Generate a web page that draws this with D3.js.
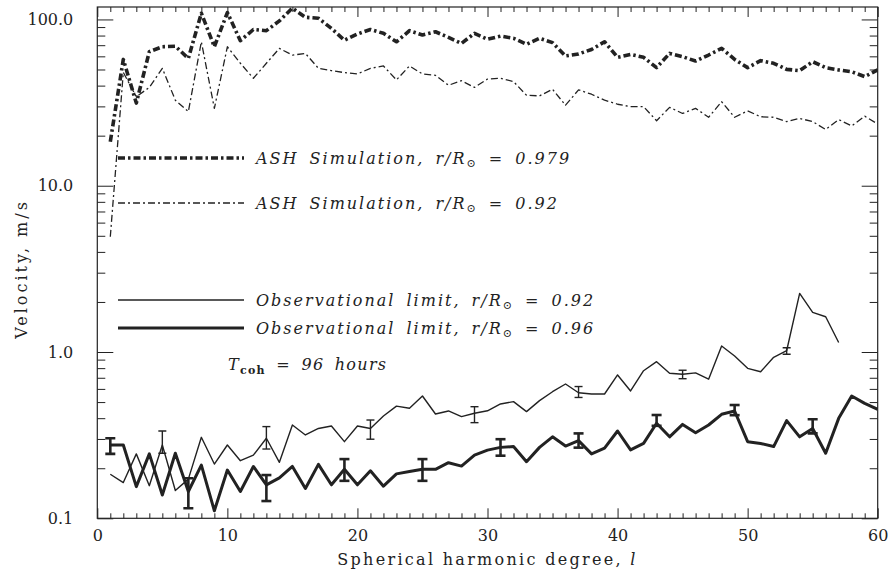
<!DOCTYPE html>
<html>
<head>
<meta charset="utf-8">
<script src="https://cdn.jsdelivr.net/npm/d3@7/dist/d3.min.js"></script>
<style>
    body { margin: 0; background: #fff; }
    svg { display: block; }
    .tick-label { font-family: "DejaVu Serif", serif; font-size: 16px; fill: #222; }
    .axis-title { font-family: "DejaVu Serif", serif; font-size: 16px; fill: #222; letter-spacing: 2.3px; }
    .legend-text { font-family: "DejaVu Serif", serif; font-style: italic; font-size: 16px; fill: #222; letter-spacing: 2px; word-spacing: 4px; }
</style>
</head>
<body>
<div id="chart"></div>
<script>

// spherical harmonic degree l
var degrees = d3.range(1, 61);
var degreesObsLow = d3.range(1, 58);

// ASH simulation, r/R = 0.979 (thick dash-dot)
var ashHigh = [18.4, 57.5, 31.4, 64, 68.5, 69, 58.3, 109, 68.5, 110,
    74.5, 87, 85.6, 98, 117, 103, 101.7, 88.3, 75, 81.7,
    87, 82.5, 73.4, 85.6, 80.6, 84.3, 78, 71.8, 82.5, 76,
    79.4, 77, 71, 77, 72.5, 60.3, 62, 66, 73.4, 59.2,
    61.6, 59.2, 51.3, 62.5, 59.7, 56.2, 61.1, 67, 57.5, 51.3,
    56.5, 54.5, 50.1, 49.2, 55.7, 51.3, 49.7, 48.5, 45.3, 49.7];

// ASH simulation, r/R = 0.92 (thin dash-dot)
var ashLow = [4.93, 48, 34.3, 39, 50.8, 32.7, 27.9, 73.4, 29.2, 68.5,
    54.5, 44.3, 54.5, 67, 61, 62.5, 50.8, 49.2, 47.9, 47,
    50.8, 52.5, 43.3, 52.5, 47, 46.1, 40.2, 42.8, 39, 43.8,
    44.3, 42.3, 35, 34.7, 38, 30.5, 37.7, 35.5, 32.7, 30.9,
    29.9, 29.9, 24.6, 29.6, 27.2, 29.2, 25.8, 32, 25.8, 28.2,
    26, 25.8, 24.3, 25.4, 24.3, 21.8, 25, 22.9, 26.2, 23.5];

// Observational limit, r/R = 0.92 (thin solid)
var obsLow = [0.184, 0.164, 0.244, 0.157, 0.276, 0.147, 0.172, 0.307, 0.212, 0.276,
    0.222, 0.240, 0.303, 0.217, 0.364, 0.317, 0.347, 0.359, 0.289, 0.359,
    0.347, 0.412, 0.473, 0.459, 0.544, 0.424, 0.442, 0.409, 0.428, 0.443,
    0.487, 0.503, 0.438, 0.510, 0.577, 0.642, 0.569, 0.559, 0.559, 0.728,
    0.583, 0.772, 0.875, 0.745, 0.735, 0.749, 0.686, 1.087, 0.946, 0.798,
    0.761, 0.929, 1.018, 2.25, 1.73, 1.63, 1.14];

// Observational limit, r/R = 0.96 (thick solid)
var obsHigh = [0.276, 0.276, 0.155, 0.244, 0.138, 0.246, 0.145, 0.209, 0.111, 0.195,
    0.145, 0.205, 0.159, 0.175, 0.205, 0.151, 0.211, 0.159, 0.197, 0.159,
    0.193, 0.156, 0.185, 0.191, 0.197, 0.197, 0.216, 0.206, 0.240, 0.257,
    0.267, 0.270, 0.219, 0.267, 0.309, 0.272, 0.293, 0.244, 0.264, 0.335,
    0.258, 0.282, 0.373, 0.309, 0.367, 0.327, 0.364, 0.422, 0.442, 0.289,
    0.282, 0.270, 0.387, 0.309, 0.347, 0.246, 0.399, 0.544, 0.491, 0.452];

// error bars: degree, low, high
var errLowL = [5, 13, 21, 29, 37, 45, 53];
var errLowMin = [0.246, 0.261, 0.299, 0.376, 0.533, 0.691, 0.97];
var errLowMax = [0.335, 0.356, 0.390, 0.469, 0.620, 0.777, 1.06];

var errHighL = [1, 7, 13, 19, 25, 31, 37, 43, 49, 55];
var errHighMin = [0.244, 0.115, 0.127, 0.168, 0.168, 0.238, 0.266, 0.360, 0.417, 0.324];
var errHighMax = [0.303, 0.174, 0.182, 0.227, 0.227, 0.299, 0.324, 0.418, 0.480, 0.394];

// axis ticks
var xTicks = [0, 10, 20, 30, 40, 50, 60];
var yTicks = [0.1, 1, 10, 100];
var yTickLabels = ["0.1", "1.0", "10.0", "100.0"];


var W = 892, H = 572;
var margin = {top: 7, right: 14.3, bottom: 53.7, left: 97.3};
var width = W - margin.left - margin.right;
var height = H - margin.top - margin.bottom;
var ink = "#222";

var svg = d3.select("#chart").append("svg")
    .attr("width", W)
    .attr("height", H);

var g = svg.append("g")
    .attr("transform", "translate(" + margin.left + "," + margin.top + ")");

var x = d3.scaleLinear().domain([0, 60]).range([0, width]);
var y = d3.scaleLog().domain([0.1, 118.8]).range([height, 0]);

svg.append("defs").append("clipPath")
    .attr("id", "plot-clip")
    .append("rect")
    .attr("width", width)
    .attr("height", height);

/*
 * Axes, IDL style: ticks inside on all four sides
 */
var minorX = d3.range(0, 61).filter(function(d) { return d % 10 != 0; });
var minorY = [];
[0.1, 1, 10, 100].forEach(function(dec) {
    d3.range(2, 10).forEach(function(k) {
        if (dec * k <= 118.8) minorY.push(dec * k);
    });
});

g.append("g")
    .attr("transform", "translate(0," + height + ")")
    .call(d3.axisBottom(x).tickValues(minorX).tickSize(-5).tickFormat(""));
g.append("g")
    .attr("transform", "translate(0," + height + ")")
    .call(d3.axisBottom(x).tickValues(xTicks).tickSize(-10).tickPadding(11).tickFormat(d3.format("d")));
g.append("g")
    .call(d3.axisTop(x).tickValues(minorX).tickSize(-5).tickFormat(""));
g.append("g")
    .call(d3.axisTop(x).tickValues(xTicks).tickSize(-10).tickFormat(""));

g.append("g")
    .call(d3.axisLeft(y).tickValues(minorY).tickSize(-8).tickFormat(""));
g.append("g")
    .call(d3.axisLeft(y).tickValues(yTicks).tickSize(-16).tickPadding(24)
        .tickFormat(function(d, i) { return yTickLabels[i]; }));
g.append("g")
    .attr("transform", "translate(" + width + ",0)")
    .call(d3.axisRight(y).tickValues(minorY).tickSize(-8).tickFormat(""));
g.append("g")
    .attr("transform", "translate(" + width + ",0)")
    .call(d3.axisRight(y).tickValues(yTicks).tickSize(-16).tickFormat(""));

g.selectAll(".domain").remove();
g.selectAll(".tick line").attr("stroke", ink).attr("stroke-width", 1);
g.selectAll(".tick text").attr("class", "tick-label");

g.append("rect")
    .attr("width", width)
    .attr("height", height)
    .attr("fill", "none")
    .attr("stroke", ink)
    .attr("stroke-width", 1.2);

/*
 * Series
 */
var plot = g.append("g").attr("clip-path", "url(#plot-clip)");

var line = d3.line()
    .x(function(d) { return x(d[0]); })
    .y(function(d) { return y(d[1]); });

function pairs(ls, vs) {
    return ls.map(function(l, i) { return [l, vs[i]]; });
}

var series = [
    {values: pairs(degrees, ashHigh), width: 3.6, dash: "7,3,2.5,3"},
    {values: pairs(degrees, ashLow), width: 1.3, dash: "7,3,2,3"},
    {values: pairs(degreesObsLow, obsLow), width: 1.4, dash: null},
    {values: pairs(degrees, obsHigh), width: 3, dash: null}
];

series.forEach(function(s) {
    plot.append("path")
        .datum(s.values)
        .attr("d", line)
        .attr("fill", "none")
        .attr("stroke", ink)
        .attr("stroke-width", s.width)
        .attr("stroke-linejoin", "round")
        .attr("stroke-dasharray", s.dash);
});

function errorBars(ls, lo, hi, sw, cap) {
    var eb = plot.append("g")
        .attr("stroke", ink)
        .attr("stroke-width", sw)
        .selectAll("g")
        .data(ls)
        .enter().append("g");
    eb.append("line")
        .attr("x1", function(d) { return x(d); })
        .attr("x2", function(d) { return x(d); })
        .attr("y1", function(d, i) { return y(lo[i]); })
        .attr("y2", function(d, i) { return y(hi[i]); });
    eb.append("line")
        .attr("x1", function(d) { return x(d) - cap; })
        .attr("x2", function(d) { return x(d) + cap; })
        .attr("y1", function(d, i) { return y(lo[i]); })
        .attr("y2", function(d, i) { return y(lo[i]); });
    eb.append("line")
        .attr("x1", function(d) { return x(d) - cap; })
        .attr("x2", function(d) { return x(d) + cap; })
        .attr("y1", function(d, i) { return y(hi[i]); })
        .attr("y2", function(d, i) { return y(hi[i]); });
}

errorBars(errLowL, errLowMin, errLowMax, 1.4, 4);
errorBars(errHighL, errHighMin, errHighMax, 2.6, 5);

/*
 * Legend
 */
var legend = [
    {y: 158, width: 3.6, dash: "7,3,2.5,3", text: "ASH Simulation,", val: "0.979"},
    {y: 203, width: 1.3, dash: "7,3,2,3", text: "ASH Simulation,", val: "0.92"},
    {y: 300, width: 1.4, dash: null, text: "Observational limit,", val: "0.92"},
    {y: 328, width: 3, dash: null, text: "Observational limit,", val: "0.96"}
];

legend.forEach(function(d) {
    svg.append("line")
        .attr("x1", 118).attr("x2", 244)
        .attr("y1", d.y).attr("y2", d.y)
        .attr("stroke", ink)
        .attr("stroke-width", d.width)
        .attr("stroke-dasharray", d.dash);

    var t = svg.append("text")
        .attr("class", "legend-text")
        .attr("x", 256)
        .attr("y", d.y + 6);
    t.append("tspan").text(d.text + " r/R");
    t.append("tspan").attr("font-size", "11px").attr("font-style", "normal").attr("dy", 3).text("\u2299");
    t.append("tspan").attr("dy", -3).text(" = " + d.val);
});

var tc = svg.append("text")
    .attr("class", "legend-text")
    .attr("x", 228)
    .attr("y", 370)
    .style("letter-spacing", "1.3px");
tc.append("tspan").text("T");
tc.append("tspan").attr("font-size", "11px").attr("font-style", "normal").attr("font-weight", "bold").attr("dy", 4).text("coh");
tc.append("tspan").attr("dy", -4).text(" = 96 hours");

/*
 * Axis titles
 */
var xt = svg.append("text")
    .attr("class", "axis-title")
    .attr("x", margin.left + width / 2)
    .attr("y", 565)
    .attr("text-anchor", "middle");
xt.append("tspan").text("Spherical harmonic degree, ");
xt.append("tspan").attr("font-style", "italic").text("l");

svg.append("text")
    .attr("class", "axis-title")
    .attr("transform", "translate(27," + (margin.top + 262) + ") rotate(-90)")
    .attr("text-anchor", "middle")
    .style("letter-spacing", "3px")
    .text("Velocity, m/s");

</script>
</body>
</html>
